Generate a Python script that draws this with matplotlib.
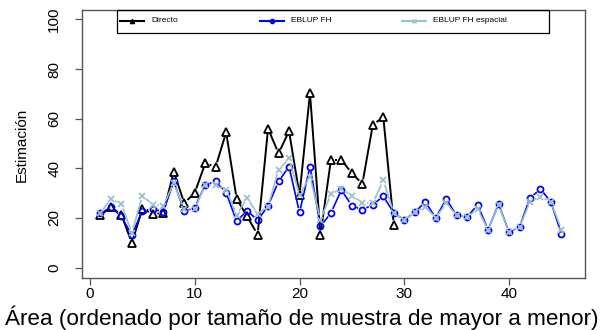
import numpy as np
import matplotlib.pyplot as plt
from matplotlib.collections import LineCollection
from matplotlib.lines import Line2D
from matplotlib.patches import Rectangle

plt.rcParams["font.family"] = ["Liberation Sans", "DejaVu Sans"]

# Estimates per area (areas ordered by sample size, largest first)
directo = [21, 24.4, 21.3, 9.9, 23.7, 21.6, 22, 38.7, 26, 30.1,
           42, 40.7, 54.5, 27.7, 20.6, 13.3, 56, 46, 55, 29.3,
           70.2, 13.3, 43.4, 43.4, 38, 33.8, 57.6, 60.6, 17.3]
eblup_fh = [21.8, 24.4, 20.6, 13, 22.9, 23.6, 22.5, 34.7, 22.6, 24.2,
            33.3, 34.7, 30.2, 18.6, 23, 19, 24.9, 34.7, 40.7, 22.2,
            40.7, 16.6, 22, 31.3, 24.9, 23.3, 25.3, 28.8, 22, 19.2,
            22.2, 26.5, 20, 27.6, 21, 20.4, 25.3, 15.2, 25.6, 14.3,
            16.3, 28.1, 31.6, 26.5, 13.5]
eblup_esp = [22, 27.7, 25.5, 13.9, 29, 25.3, 24.9, 34, 23.6, 23.6,
             33.3, 33.3, 31.3, 21.3, 28, 21.7, 24.6, 39.4, 44, 29.3,
             36.7, 19.3, 29.6, 31.7, 28.9, 26.2, 26, 35.1, 22, 19.2,
             22.2, 24.6, 20, 26, 21, 20.4, 23.6, 15.2, 25.3, 14.3,
             16.3, 26.5, 28.6, 26.5, 15.3]
series_names = ["Directo", "EBLUP FH", "EBLUP FH espacial"]
x_ticks = [0, 10, 20, 30, 40]
y_ticks = [0, 20, 40, 60, 80, 100]

W, H = 607, 330
BLACK = "black"
BLUE = "#0000FF"
LIGHT = "#9AC0CD"
AXIS_GRAY = "#555555"


def fig_xy(px, py):
    return px / W, 1 - py / H


def draw_type_b(ax, x, y, color, lw, gap_px=4.5):
    # R's type="b": segments stop short of each point
    pts = ax.transData.transform(np.column_stack([x, y]))
    segs = []
    for p0, p1 in zip(pts[:-1], pts[1:]):
        d = p1 - p0
        length = np.hypot(*d)
        if length <= 2 * gap_px:
            continue
        u = d / length
        a = ax.transData.inverted().transform(p0 + u * gap_px)
        b = ax.transData.inverted().transform(p1 - u * gap_px)
        segs.append([a, b])
    ax.add_collection(LineCollection(segs, colors=color, linewidths=lw,
                                     capstyle="butt"))


fig = plt.figure(figsize=(W / 100, H / 100), dpi=100)
ax = fig.add_axes([82 / W, 1 - 277.5 / H, 503 / W, 268 / H])
ax.set_xlim(-0.76, 47.25)
ax.set_ylim(-4, 104)

styles = [
    (directo, BLACK, "^", 6.3, 1.4),
    (eblup_fh, BLUE, "o", 4.3, 1.2),
    (eblup_esp, LIGHT, "x", 4.6, 1.2),
]
for values, color, marker, ms, lw in styles:
    areas = np.arange(1, len(values) + 1)
    draw_type_b(ax, areas, values, color, lw)
    ax.plot(areas, values, linestyle="none", marker=marker, ms=ms,
            mfc="none", mec=color, mew=1.3)

ax.set_xticks(x_ticks)
ax.set_yticks(y_ticks)
for side in ["left", "right", "top", "bottom"]:
    ax.spines[side].set_color(AXIS_GRAY)
    ax.spines[side].set_linewidth(1.0)
ax.tick_params(axis="both", direction="out", length=5, width=0.9,
               color=AXIS_GRAY, labelsize=11)
ax.tick_params(axis="x", pad=2)
ax.tick_params(axis="y", pad=10, labelrotation=90)
for lab in ax.get_yticklabels():
    lab.set_verticalalignment("center")

ax.set_xlabel("Área (ordenado por tamaño de muestra de mayor a menor)",
              fontsize=16.2)
ax.xaxis.set_label_coords(0.437, -0.151)
ax.xaxis.label.set_verticalalignment("center")
ax.set_ylabel("Estimación", fontsize=11)
ax.yaxis.set_label_coords(-0.12, 0.494)
ax.yaxis.label.set_verticalalignment("center")

# legend box drawn R-style across the top
x0, y0 = fig_xy(117, 33)
x1, y1 = fig_xy(549, 9.5)
fig.add_artist(Rectangle((x0, y0), x1 - x0, y1 - y0, transform=fig.transFigure,
                         fill=False, edgecolor="black", linewidth=0.9))
legend_x = [120, 260, 402]
for (values, color, marker, ms, lw), name, lx in zip(styles, series_names, legend_x):
    xa, ya = fig_xy(lx, 21)
    xb, _ = fig_xy(lx + 24, 21)
    xm, _ = fig_xy(lx + 12, 21)
    fig.add_artist(Line2D([xa, xb], [ya, ya], transform=fig.transFigure,
                          color=color, linewidth=1.5))
    fig.add_artist(Line2D([xm], [ya], transform=fig.transFigure, marker=marker,
                          ms=3, color=color, mfc=color, mew=1))
    tx, _ = fig_xy(lx + 31, 21)
    fig.text(tx, ya, name, fontsize=6, va="center", ha="left")

fig.savefig("out.png", dpi=100)
